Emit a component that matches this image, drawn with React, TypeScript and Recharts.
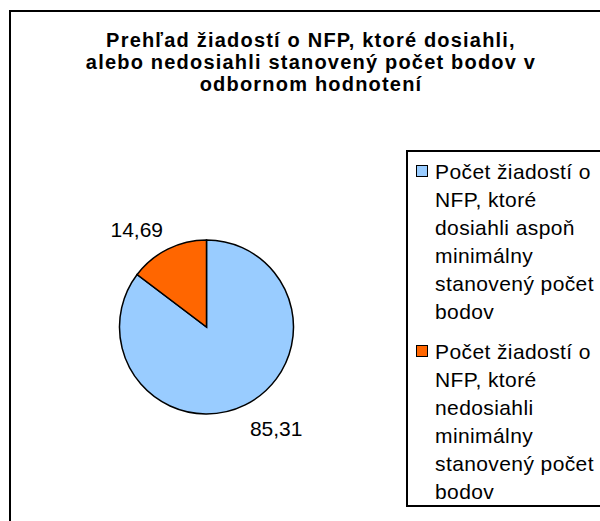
import { PieChart, Pie, Cell, Legend } from "recharts";

const categories = [
  "Počet žiadostí o NFP, ktoré dosiahli aspoň minimálny stanovený počet bodov",
  "Počet žiadostí o NFP, ktoré nedosiahli minimálny stanovený počet bodov",
];
const values = [85.31, 14.69];
const colors = ["#99CCFF", "#FF6600"];
const titleLines = [
  "Prehľad žiadostí o NFP, ktoré dosiahli,",
  "alebo nedosiahli stanovený počet bodov v",
  "odbornom hodnotení",
];

const data = categories.map((name, i) => ({ name, value: values[i] }));

const RAD = Math.PI / 180;
const FONT = '"Liberation Sans", Arial, sans-serif';

const renderLabel = (props: any) => {
  const { cx, cy, midAngle, outerRadius, value } = props;
  const r = outerRadius + 24;
  const left = Math.cos(-midAngle * RAD) < 0;
  const x = cx + r * Math.cos(-midAngle * RAD) + (left ? 6 : -6);
  const y = cy + r * Math.sin(-midAngle * RAD) + 2;
  return (
    <text
      x={x}
      y={y}
      fill="#000"
      fontSize={21}
      fontFamily={FONT}
      textAnchor={left ? "end" : "start"}
      dominantBaseline="central"
    >
      {value.toFixed(2).replace(".", ",")}
    </text>
  );
};

const renderLegend = (props: any) => {
  const { payload } = props;
  return (
    <div
      style={{
        boxSizing: "border-box",
        width: 220,
        height: 357,
        border: "2px solid #000",
        background: "#fff",
        paddingTop: 6,
        paddingLeft: 8,
        fontFamily: FONT,
        fontSize: 21,
        lineHeight: "28px",
        letterSpacing: 0.4,
        color: "#000",
        textAlign: "left",
      }}
    >
      {(payload || []).map((entry: any, i: number) => (
        <div key={i} style={{ display: "flex", marginBottom: i === 0 ? 12 : 0 }}>
          <div
            style={{
              boxSizing: "border-box",
              width: 12,
              height: 12,
              marginTop: 7,
              marginRight: 7,
              flex: "none",
              border: "1.5px solid #000",
              background: colors[i],
            }}
          />
          <div style={{ width: 170 }}>{entry.value}</div>
        </div>
      ))}
    </div>
  );
};

export default function App() {
  return (
    <div
      style={{
        position: "absolute",
        left: 0,
        top: 0,
        width: 600,
        height: 521,
        overflow: "hidden",
        background: "#fff",
      }}
    >
      {/* outer frame, cut off at right and bottom */}
      <div
        style={{
          position: "absolute",
          left: 9,
          top: 10,
          width: 620,
          height: 540,
          border: "2px solid #000",
        }}
      />
      <div
        style={{
          position: "absolute",
          left: 0,
          top: 29,
          width: 622,
          textAlign: "center",
          fontFamily: FONT,
          fontWeight: "bold",
          fontSize: 20,
          lineHeight: "22px",
          letterSpacing: 1.2,
          color: "#000",
        }}
      >
        {titleLines.map((t, i) => (
          <div key={i}>{t}</div>
        ))}
      </div>
      <div style={{ position: "absolute", left: 0, top: 0 }}>
        <PieChart width={600} height={521} margin={{ top: 0, right: 0, bottom: 0, left: 0 }}>
          <Pie
            data={data}
            dataKey="value"
            nameKey="name"
            cx={206.5}
            cy={327}
            outerRadius={87}
            startAngle={90}
            endAngle={-270}
            stroke="#000"
            strokeWidth={1.5}
            label={renderLabel}
            labelLine={false}
            isAnimationActive={false}
          >
            {data.map((d, i) => (
              <Cell key={d.name} fill={colors[i]} />
            ))}
          </Pie>
          <Legend
            layout="vertical"
            align="right"
            verticalAlign="top"
            content={renderLegend}
            wrapperStyle={{ left: 406, top: 150, right: "auto", bottom: "auto", width: 220, height: 357 }}
          />
        </PieChart>
      </div>
    </div>
  );
}
